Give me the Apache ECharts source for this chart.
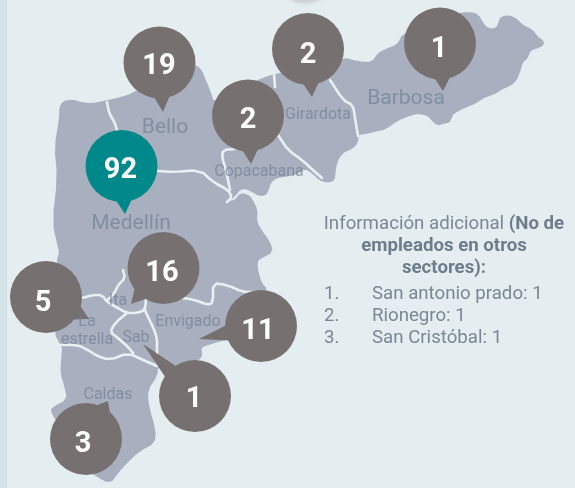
<!DOCTYPE html>
<html>
<head>
<meta charset="utf-8">
<style>
  html, body { margin: 0; padding: 0; background: #e4edf0; }
  #chart { width: 575px; height: 488px; }
</style>
<script src="https://cdn.jsdelivr.net/npm/echarts@6/dist/echarts.min.js"></script>
</head>
<body>
<div id="chart"></div>
<script>
// municipios y numero de empleados
const pinNames = ["Bello", "Medellín", "Copacabana", "Girardota", "Barbosa", "Itagüí", "La estrella", "Envigado", "Sabaneta", "Caldas"];
const pinValues = [19, 92, 2, 2, 1, 16, 5, 11, 1, 3];
const pinTips = [[163, 112], [125, 214], [251, 164], [312, 97], [443, 91], [131, 304], [89, 319], [199, 339], [143, 344], [108, 401]];
const pinCenters = [[159.5, 62.5], [121.5, 166], [248, 115.5], [308, 49], [440, 43.5], [163.5, 268], [46, 297], [261, 326], [195, 396], [86, 439]];
const pinTextAt = [[159, 67], [120.5, 171], [248, 121], [308, 56], [439, 50], [162, 274], [43, 304], [258, 332], [194, 400], [83, 445]];

// etiquetas del mapa
const mapLabels = ["Bello", "Medellín", "Barbosa", "Girardota", "Copacabana", "Envigado", "Sab", "Ita", "La", "estrella", "Caldas"];
const mapLabelAt = [[165, 128], [131, 224], [406, 99], [318, 115], [259, 172], [188, 322], [136, 338], [118, 301], [87, 322], [87, 340], [108, 395]];
const mapLabelSize = [21, 21, 21, 16, 16, 16, 16, 16, 16, 16, 16];

// texto lateral
const infoTitle = "{a|Información adicional }{b|(No de}\n{b|empleados en otros}\n{b|sectores):}";
const infoItems = ["San antonio prado: 1", "Rionegro: 1", "San Cristóbal: 1"];

// silueta del valle y limites entre municipios
const outline = [[60,107],[63,102],[72,100],[82,103],[92,104],[107,101],[120,98],[133,94],[150,82],[175,70],[195,65],[201,70],[205,80],[210,92],[213,102],[222,100],[240,90],[257,81],[273,75],[300,70],[343,58],[358,62],[372,63],[378,54],[385,50],[398,45],[403,34],[430,20],[462,13],[472,13],[478,15],[483,24],[488,29],[496,29],[499,23],[501,17],[510,16],[516,19],[522,25],[532,30],[537,37],[543,41],[543,45],[536,48],[530,50],[527,58],[522,62],[520,70],[516,80],[510,85],[503,88],[497,92],[490,95],[482,98],[475,103],[465,107],[453,113],[451,118],[449,122],[443,123],[438,125],[432,120],[428,115],[418,113],[410,115],[397,120],[385,129],[375,131],[362,134],[358,134],[357,143],[352,148],[343,152],[337,160],[335,170],[334,180],[328,182],[320,180],[313,173],[305,168],[300,172],[292,175],[285,176],[275,178],[270,183],[268,190],[265,195],[258,195],[252,191],[245,188],[240,189],[236,194],[231,199],[227,203],[236,200],[240,194],[248,195],[252,200],[257,210],[256,222],[262,232],[270,243],[272,252],[262,257],[257,260],[257,270],[261,283],[267,290],[262,310],[240,335],[212,343],[200,347],[202,355],[198,360],[180,365],[157,366],[157,375],[147,390],[148,406],[155,430],[154,443],[140,450],[128,461],[117,473],[110,483],[97,476],[80,465],[60,425],[52,413],[52,408],[68,400],[65,386],[61,373],[62,356],[63,348],[60,343],[55,333],[60,300],[57,262],[60,252],[58,245],[53,222],[58,177],[55,147],[60,117]];
const boundaries = [
  [[107,102],[109,113],[115,123],[117,131]],
  [[140,170],[158,171],[173,172],[200,170],[213,182],[228,190],[232,197],[227,202]],
  [[235,149],[223,150],[222,157],[226,170],[228,180],[230,190]],
  [[274,75],[275,87]],
  [[278,135],[288,150],[302,160],[315,172],[322,178]],
  [[330,80],[343,100],[353,105],[355,118],[357,130],[358,136]],
  [[70,299],[82,298],[93,295],[102,295],[107,302],[118,308],[127,313],[137,313],[145,310],[146,298]],
  [[107,300],[110,298],[115,292],[118,285],[125,278],[123,270]],
  [[127,313],[115,323],[110,332],[118,338],[128,347],[133,353]],
  [[145,310],[147,315],[153,327],[157,338],[157,350],[157,366]],
  [[60,345],[78,345],[88,350],[97,356],[110,360],[128,353],[143,360],[157,366]],
  [[160,296],[183,298],[195,300],[208,305],[213,302],[213,283],[227,285],[243,292],[255,292]]
];

// redondea las esquinas del trazado
const soften = (pts, closed) => {
  const out = closed ? [] : [pts[0]];
  const n = closed ? pts.length : pts.length - 1;
  for (let i = 0; i < n; i++) {
    const a = pts[i], b = pts[(i + 1) % pts.length];
    out.push([a[0] * 0.75 + b[0] * 0.25, a[1] * 0.75 + b[1] * 0.25]);
    out.push([a[0] * 0.25 + b[0] * 0.75, a[1] * 0.25 + b[1] * 0.75]);
  }
  if (!closed) out.push(pts[pts.length - 1]);
  return out;
};
const toPts = pts => pts.map(p => p[0].toFixed(1) + "," + p[1].toFixed(1)).join(" ");
const svg = '<svg xmlns="http://www.w3.org/2000/svg" width="575" height="488" viewBox="0 0 575 488">'
  + '<polygon points="' + toPts(soften(outline, true)) + '" fill="#a8afbf" stroke="#a8afbf" stroke-width="1.5" stroke-linejoin="round"/>'
  + boundaries.map(b => '<polyline points="' + toPts(soften(b, false)) + '" fill="none" stroke="#e9f0f2" stroke-width="2.6" stroke-linejoin="round" stroke-linecap="round"/>').join("")
  + '</svg>';
echarts.registerMap("valle", { svg: svg });

const chart = echarts.init(document.getElementById("chart"));
const pinR = 36;

const renderPin = (params, api) => {
  const i = params.dataIndex;
  const tip = api.coord(pinTips[i]);
  const c = api.coord(pinCenters[i]);
  const t = api.coord(pinTextAt[i]);
  const fill = pinValues[i] === 92 ? "#00888a" : "#767170";
  const ang = Math.atan2(tip[1] - c[1], tip[0] - c[0]);
  const half = 0.22;
  return {
    type: "group",
    children: [
      { type: "polygon", shape: { points: [
          [c[0] + pinR * Math.cos(ang - half) * 0.98, c[1] + pinR * Math.sin(ang - half) * 0.98],
          tip,
          [c[0] + pinR * Math.cos(ang + half) * 0.98, c[1] + pinR * Math.sin(ang + half) * 0.98]
        ] }, style: { fill: fill } },
      { type: "circle", shape: { cx: c[0], cy: c[1], r: pinR }, style: { fill: fill } },
      { type: "text", x: t[0], y: t[1], style: {
          text: String(pinValues[i]), fill: "#fff", align: "center", verticalAlign: "middle",
          font: "700 29px Roboto"
        } }
    ]
  };
};

const option = {
  backgroundColor: "#e4edf0",
  animation: false,
  geo: {
    map: "valle",
    left: 0,
    top: 0,
    width: 575,
    height: 488,
    roam: false,
    silent: true
  },
  series: [
    {
      type: "custom",
      coordinateSystem: "geo",
      renderItem: renderPin,
      silent: true,
      z: 3,
      data: pinNames.map((n, i) => ({ name: n, value: pinTips[i] }))
    },
    {
      type: "scatter",
      coordinateSystem: "geo",
      symbolSize: 1,
      silent: true,
      z: 4,
      itemStyle: { color: "transparent" },
      label: {
        show: true,
        position: "inside",
        formatter: "{b}",
        color: "rgba(112,127,143,0.85)",
        fontFamily: "Roboto"
      },
      data: mapLabels.map((n, i) => ({
        name: n,
        value: mapLabelAt[i],
        label: { fontSize: mapLabelSize[i] }
      }))
    }
  ],
  graphic: [
    { type: "rect", shape: { x: 0, y: 0, width: 7, height: 488 }, style: { fill: "#d3e3e8" }, silent: true },
    { type: "ellipse", shape: { cx: 305, cy: -3, rx: 15, ry: 6 }, style: { fill: "#cfd4d6", shadowBlur: 5, shadowColor: "#cfd4d6" }, silent: true },
    {
      type: "text", x: 444, y: 246, silent: true,
      style: {
        text: infoTitle,
        align: "center",
        verticalAlign: "middle",
        rich: {
          a: { font: "400 18.67px Roboto", fill: "#7a8794", lineHeight: 22 },
          b: { font: "700 18.67px Roboto", fill: "#6f7c8a", lineHeight: 22 }
        }
      }
    },
    ...infoItems.flatMap((item, i) => [
      { type: "text", x: 324, y: 294 + i * 22, silent: true, style: { text: (i + 1) + ".", font: "400 18.67px Roboto", fill: "#7a8794", verticalAlign: "middle" } },
      { type: "text", x: 372, y: 294 + i * 22, silent: true, style: { text: item, font: "400 18.67px Roboto", fill: "#7a8794", verticalAlign: "middle" } }
    ])
  ]
};
chart.setOption(option);
</script>
</body>
</html>
